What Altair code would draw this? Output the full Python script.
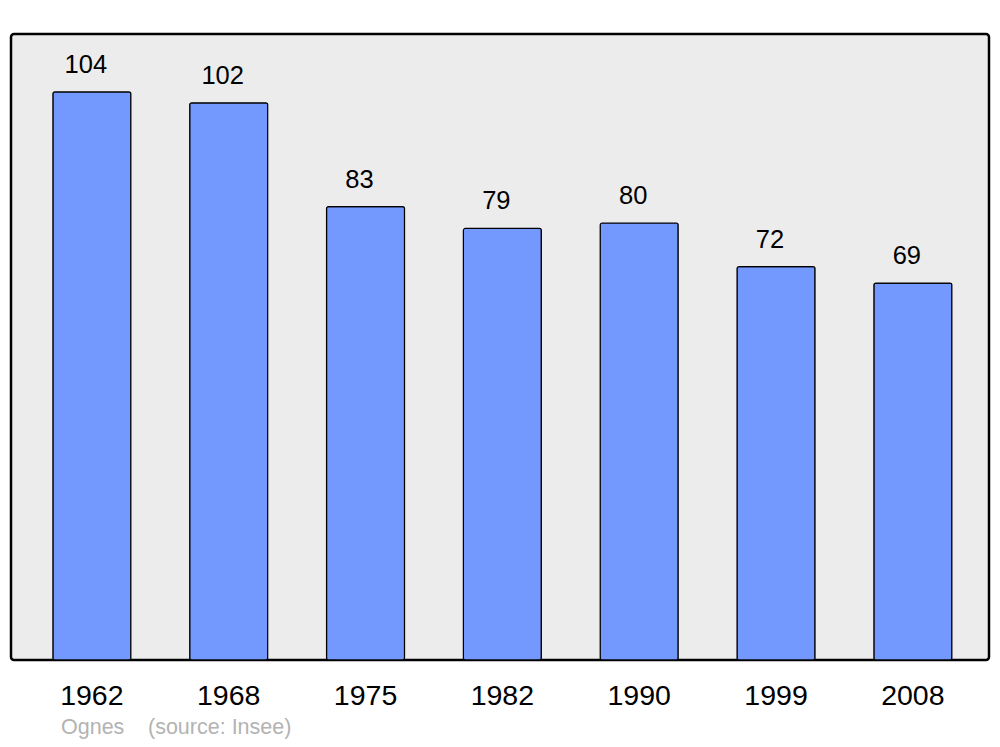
import altair as alt
import pandas as pd

years = ["1962", "1968", "1975", "1982", "1990", "1999", "2008"]
population = [104, 102, 83, 79, 80, 72, 69]
footer_texts = ["Ognes", "(source: Insee)"]

df = pd.DataFrame({"year": years, "pop": population})

x = alt.X("year:N", sort=years,
          scale=alt.Scale(paddingInner=0.43, paddingOuter=0.2887, align=0.53),
          axis=alt.Axis(title=None, domain=False, ticks=False, labelAngle=0,
                        labelFontSize=28.5, labelColor="black", labelFont="Liberation Sans",
                        labelPadding=35, labelBaseline="middle"))
y = alt.Y("pop:Q", scale=alt.Scale(domain=[0, 114.6], nice=False, zero=True), axis=None)

bars = alt.Chart(df).mark_bar(
    color="#7399ff", stroke="black", strokeWidth=1.2, cornerRadius=2
).encode(x=x, y=y)

labels = alt.Chart(df).mark_text(
    baseline="alphabetic", dy=-19, dx=-6, fontSize=25.5, font="Liberation Sans", color="black"
).encode(x=alt.X("year:N", sort=years), y=y, text="pop:Q")

foot1 = alt.Chart(pd.DataFrame({"t": [footer_texts[0]]})).mark_text(
    align="left", baseline="alphabetic", fontSize=21.5, font="Liberation Sans", color="#b3b3b3"
).encode(x=alt.value(50), y=alt.value(700), text="t:N")
foot2 = alt.Chart(pd.DataFrame({"t": [footer_texts[1]]})).mark_text(
    align="left", baseline="alphabetic", fontSize=21.5, font="Liberation Sans", color="#b3b3b3"
).encode(x=alt.value(137), y=alt.value(700), text="t:N")

chart = alt.layer(bars, labels, foot1, foot2).properties(
    width=978, height=626,
    autosize=alt.AutoSizeParams(type="none"),
    padding={"left": 3, "top": 26, "right": 3, "bottom": 79},
    background="white",
).configure_view(
    fill="#ececec", stroke="black", strokeWidth=2.5, cornerRadius=3
)

chart.save("out.html", embed_options={"renderer": "svg", "actions": False})
